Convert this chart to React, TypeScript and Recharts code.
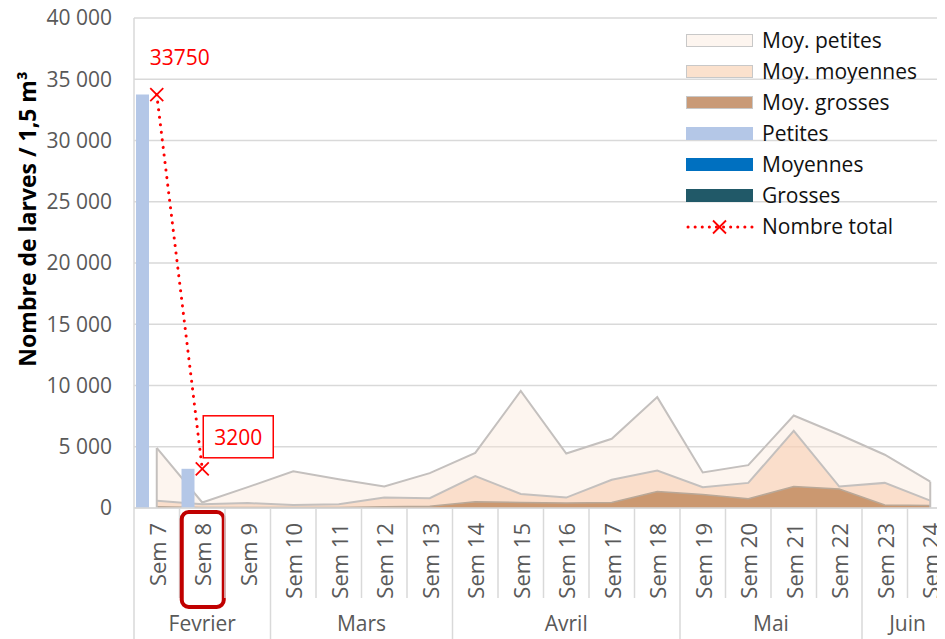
import React from "react";
import {
  ComposedChart,
  Area,
  Bar,
  Line,
  XAxis,
  YAxis,
  CartesianGrid,
  Legend,
  LabelList,
  ReferenceLine,
} from "recharts";

// weeks on the x axis
const weeks = [
  "Sem 7", "Sem 8", "Sem 9", "Sem 10", "Sem 11", "Sem 12", "Sem 13", "Sem 14", "Sem 15",
  "Sem 16", "Sem 17", "Sem 18", "Sem 19", "Sem 20", "Sem 21", "Sem 22", "Sem 23", "Sem 24",
];

// month group labels (first week of the month + number of weeks)
const monthNames = ["Fevrier", "Mars", "Avril", "Mai", "Juin"];
const monthStarts = ["Sem 7", "Sem 10", "Sem 14", "Sem 19", "Sem 23"];
const monthSpans = [3, 4, 5, 4, 2];

// averages (areas)
const moyPetites = [4900, 450, 1700, 3000, 2350, 1750, 2850, 4500, 9550, 4450, 5650, 9050, 2900, 3500, 7550, 6000, 4350, 2150];
const moyMoyennes = [600, 300, 400, 250, 300, 850, 800, 2600, 1150, 850, 2300, 3050, 1700, 2050, 6300, 1750, 2050, 600];
const moyGrosses = [100, 50, 50, 50, 50, 100, 150, 500, 450, 400, 450, 1350, 1100, 750, 1750, 1550, 250, 200];

// counts this year (bars + total line)
const petites = [33750, 3200];
const moyennes: number[] = [];
const grosses: number[] = [];
const total = [33750, 3200];

const yTicks = [0, 5000, 10000, 15000, 20000, 25000, 30000, 35000, 40000];

const data = weeks.map((week, i) => ({
  week,
  moyPetites: moyPetites[i],
  moyMoyennes: moyMoyennes[i],
  moyGrosses: moyGrosses[i],
  petites: petites[i] ?? null,
  moyennes: moyennes[i] ?? null,
  grosses: grosses[i] ?? null,
  total: total[i] ?? null,
}));

const W = 945;
const H = 648;
const PLOT_LEFT = 126;
const PLOT_BOTTOM = 508;
const BW = (W - PLOT_LEFT) / weeks.length;
const GRID = "#D9D9D9";
const TXT = "#595959";

const fmt = (n: number) => String(n).replace(/\B(?=(\d{3})+(?!\d))/g, " ");

const WeekTick = (props: any) => {
  const { x, payload, index } = props;
  const cx = x;
  const left = cx - BW / 2;
  const mi = monthStarts.indexOf(payload.value);
  return (
    <g>
      <line x1={left} x2={left} y1={PLOT_BOTTOM} y2={mi >= 0 ? H : 598} stroke={GRID} strokeWidth={1.5} />
      <text
        transform={`translate(${cx},523) rotate(-90)`}
        textAnchor="end"
        dominantBaseline="central"
        fill={TXT}
        fontSize={22}
      >
        {payload.value}
      </text>
      {mi >= 0 && (
        <text x={left + (monthSpans[mi] * BW) / 2} y={631} textAnchor="middle" fill={TXT} fontSize={21}>
          {monthNames[mi]}
        </text>
      )}
      {index === 1 && (
        <rect x={cx - 20.5} y={512} width={42} height={95} rx={7} fill="none" stroke="#C00000" strokeWidth={4} />
      )}
    </g>
  );
};

const YTitle = () => (
  <text
    transform="translate(19,219) rotate(-90)"
    textAnchor="middle"
    dominantBaseline="central"
    fontSize={23}
    fontWeight="bold"
    fill="#000"
  >
    Nombre de larves / 1,5 m³
  </text>
);

const XDot = (p: any) => {
  const { cx, cy, value, index } = p;
  if (value == null || cy == null) return <g key={`d${index}`} />;
  const s = 6.5;
  return (
    <g key={`d${index}`} stroke="#FF0000" strokeWidth={1.8}>
      <line x1={cx - s} y1={cy - s} x2={cx + s} y2={cy + s} />
      <line x1={cx - s} y1={cy + s} x2={cx + s} y2={cy - s} />
    </g>
  );
};

const TotalLabel = (p: any) => {
  const { x, y, value, index } = p;
  if (value == null) return null;
  if (index === 0)
    return (
      <text x={x + 23} y={y - 30} textAnchor="middle" fill="#FF0000" fontSize={21}>
        {value}
      </text>
    );
  return (
    <g>
      <rect x={x + 1} y={y - 53} width={70} height={42} fill="#fff" stroke="#FF0000" strokeWidth={1.5} />
      <text x={x + 36} y={y - 32} textAnchor="middle" dominantBaseline="central" fill="#FF0000" fontSize={21}>
        {value}
      </text>
    </g>
  );
};

const legendItems = [
  { label: "Moy. petites", fill: "#FDF5EF", border: true },
  { label: "Moy. moyennes", fill: "#FBE1CD", border: true },
  { label: "Moy. grosses", fill: "#C99A77", border: true },
  { label: "Petites", fill: "#B4C7E7" },
  { label: "Moyennes", fill: "#0070C0" },
  { label: "Grosses", fill: "#215968" },
  { label: "Nombre total", line: true },
];

const LegendBox = () => (
  <div style={{ display: "flex", flexDirection: "column" }}>
    {legendItems.map((it) => (
      <div key={it.label} style={{ display: "flex", alignItems: "center", height: 31 }}>
        {it.line ? (
          <svg width={68} height={16} style={{ marginRight: 8 }}>
            <line x1={2} y1={8} x2={66} y2={8} stroke="#FF0000" strokeWidth={3} strokeDasharray="0.1 7" strokeLinecap="round" />
            <line x1={27} y1={1.5} x2={40} y2={14.5} stroke="#FF0000" strokeWidth={1.8} />
            <line x1={27} y1={14.5} x2={40} y2={1.5} stroke="#FF0000" strokeWidth={1.8} />
          </svg>
        ) : (
          <div
            style={{
              width: 67,
              height: 13,
              boxSizing: "border-box",
              background: it.fill,
              border: it.border ? "1.5px solid #C8C8C8" : "none",
              marginRight: 9,
            }}
          />
        )}
        <span style={{ fontSize: 21, color: "#111", lineHeight: "31px", whiteSpace: "nowrap" }}>{it.label}</span>
      </div>
    ))}
  </div>
);

export default function App() {
  return (
    <div
      style={{
        width: 937,
        height: 639,
        marginTop: -8,
        overflow: "hidden",
        position: "relative",
        fontFamily: "'Open Sans', sans-serif",
      }}
    >
      <ComposedChart width={W} height={H} data={data} margin={{ top: 18, right: 0, bottom: 0, left: 0 }} barGap={1}>
        <CartesianGrid vertical={false} stroke={GRID} strokeWidth={1.5} />
        <XAxis
          dataKey="week"
          interval={0}
          height={140}
          axisLine={{ stroke: GRID, strokeWidth: 1.5 }}
          tickLine={false}
          tick={<WeekTick />}
        />
        <YAxis
          width={126}
          domain={[0, 40000]}
          ticks={yTicks}
          tickFormatter={fmt}
          axisLine={{ stroke: GRID, strokeWidth: 1.5 }}
          tickLine={false}
          tickSize={0}
          tickMargin={22}
          tick={{ fill: TXT, fontSize: 21 }}
          label={<YTitle />}
        />
        <Legend
          layout="horizontal"
          verticalAlign="middle"
          align="center"
          content={<LegendBox />}
          wrapperStyle={{ top: 25, left: 678, width: "auto", height: "auto" }}
        />
        <Area type="linear" dataKey="moyPetites" fill="#FBE5D6" fillOpacity={0.4} stroke="#C4C0BE" strokeWidth={2} isAnimationActive={false} />
        <Area type="linear" dataKey="moyMoyennes" fill="#F8CBAD" fillOpacity={0.55} stroke="#C4C0BE" strokeWidth={2} isAnimationActive={false} />
        <Area type="linear" dataKey="moyGrosses" fill="#C8936A" fillOpacity={0.95} stroke="#B9A898" strokeWidth={1.5} isAnimationActive={false} />
        <ReferenceLine segment={[{ x: weeks[0], y: 0 }, { x: weeks[0], y: moyPetites[0] }]} stroke="#C4C0BE" strokeWidth={2} />
        <ReferenceLine
          segment={[{ x: weeks[weeks.length - 1], y: 0 }, { x: weeks[weeks.length - 1], y: moyPetites[moyPetites.length - 1] }]}
          stroke="#C4C0BE"
          strokeWidth={2}
        />
        <Bar dataKey="petites" fill="#B4C7E7" barSize={13} isAnimationActive={false} />
        <Bar dataKey="moyennes" fill="#0070C0" barSize={13} isAnimationActive={false} />
        <Bar dataKey="grosses" fill="#215968" barSize={13} isAnimationActive={false} />
        <Line
          type="linear"
          dataKey="total"
          stroke="#FF0000"
          strokeWidth={3}
          strokeDasharray="0.1 7.5"
          strokeLinecap="round"
          dot={<XDot />}
          activeDot={false}
          isAnimationActive={false}
        >
          <LabelList dataKey="total" content={<TotalLabel />} />
        </Line>
      </ComposedChart>
    </div>
  );
}
